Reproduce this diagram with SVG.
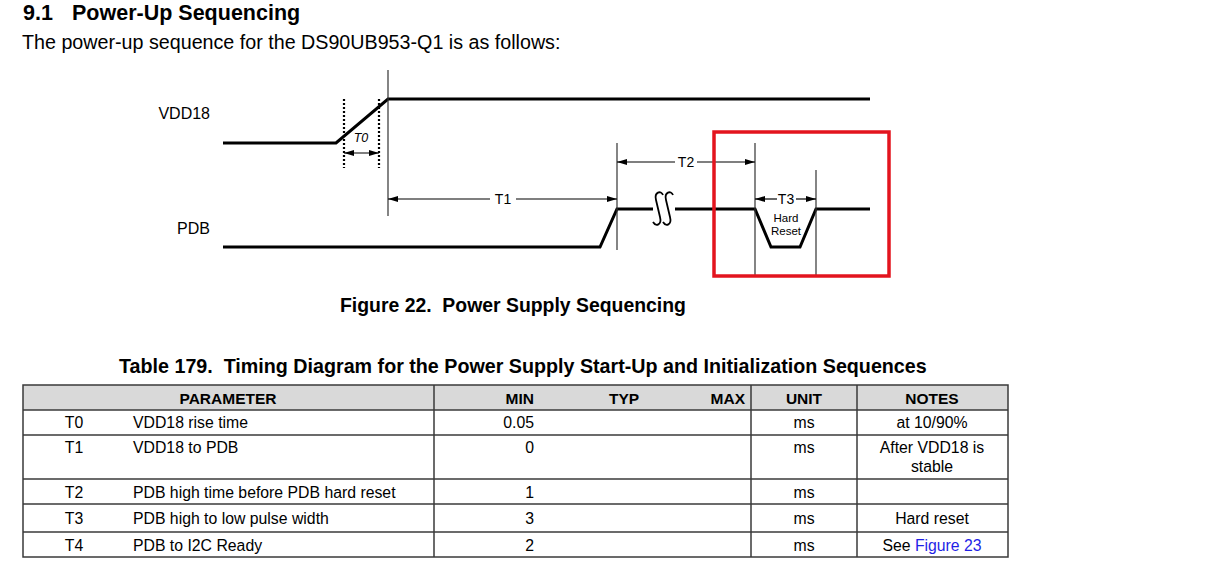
<svg xmlns="http://www.w3.org/2000/svg" width="1230" height="567" viewBox="0 0 1230 567">
<defs>
<marker id="ah" viewBox="0 0 10 6" refX="10" refY="3" markerWidth="10" markerHeight="6" markerUnits="userSpaceOnUse" orient="auto-start-reverse">
<path d="M0,0 L10,3 L0,6 z" fill="#000"/>
</marker>
<style>
text{font-family:"Liberation Sans",Arial,sans-serif;fill:#000}
.b{font-weight:bold}
.sig{fill:none;stroke:#000;stroke-width:3;stroke-linejoin:miter}
.thin{stroke:#333;stroke-width:1.2;fill:none}
.dot{stroke:#000;stroke-width:2.2;stroke-dasharray:2 2;fill:none}
.arr{stroke:#000;stroke-width:1.2;fill:none}
.lbl{font-size:16px}
.tl{font-size:14px;text-anchor:middle}
.sm{font-size:11.5px;text-anchor:middle}
.grid{stroke:#3a3a3a;stroke-width:1.5;fill:none}
.td{font-size:15.8px}
.th{font-size:15.5px;font-weight:bold}
.c{text-anchor:middle}
.e{text-anchor:end}
.sq{fill:none;stroke:#000;stroke-width:1.8}
</style>
</defs>
<rect width="1230" height="567" fill="#fff"/>
<g id="heading">
<text class="b" x="23" y="19.5" font-size="21.5">9.1</text>
<text class="b" x="72" y="19.5" font-size="21.5">Power-Up Sequencing</text>
<text x="22" y="49" font-size="19.7">The power-up sequence for the DS90UB953-Q1 is as follows:</text>
</g>
<g id="labels">
<text class="lbl" x="210" y="119" text-anchor="end">VDD18</text>
<text class="lbl" x="210" y="234" text-anchor="end">PDB</text>
</g>
<g id="vdd18">
<path class="sig" d="M223,143 L336,143 L388,99 L870,99"/>
</g>
<g id="pdb">
<path class="sig" d="M223,247 L600,247 L617,209 L653,209"/>
<path class="sig" d="M675,209 L755,209 L771,247 L800,247 L816,209 L870,209"/>
<path class="sq" d="M663,195 C661,190 654,192 656,200 L660,217 C662,225 656,227 653,222"/>
<path class="sq" d="M673,195 C671,190 664,192 666,200 L670,217 C672,225 666,227 663,222"/>
</g>
<g id="connectors">
<line class="thin" x1="388" y1="70" x2="388" y2="216"/>
<line class="thin" x1="617" y1="143" x2="617" y2="250"/>
<line class="thin" x1="755" y1="143" x2="755" y2="277"/>
<line class="thin" x1="816" y1="170" x2="816" y2="277"/>
<line class="dot" x1="344" y1="99" x2="344" y2="168"/>
<line class="dot" x1="379" y1="99" x2="379" y2="168"/>
<line class="arr" x1="344" y1="153" x2="379" y2="153" marker-start="url(#ah)" marker-end="url(#ah)"/>
<line class="arr" x1="388" y1="199" x2="490" y2="199" marker-start="url(#ah)"/>
<line class="arr" x1="516" y1="199" x2="617" y2="199" marker-end="url(#ah)"/>
<line class="arr" x1="617" y1="162" x2="675" y2="162" marker-start="url(#ah)"/>
<line class="arr" x1="697" y1="162" x2="755" y2="162" marker-end="url(#ah)"/>
<line class="arr" x1="755" y1="199" x2="777" y2="199" marker-start="url(#ah)"/>
<line class="arr" x1="796" y1="199" x2="816" y2="199" marker-end="url(#ah)"/>
</g>
<g id="timing-labels">
<text x="361" y="142" font-size="12.5" font-style="italic" text-anchor="middle">T0</text>
<text class="tl" x="503" y="204">T1</text>
<text class="tl" x="686" y="167">T2</text>
<text class="tl" x="786" y="204">T3</text>
<text class="sm" x="786" y="222">Hard</text>
<text class="sm" x="786" y="235">Reset</text>
</g>
<g id="highlight">
<rect x="714" y="132" width="175" height="144" fill="none" stroke="#e3141e" stroke-width="3.5"/>
</g>
<g id="caption">
<text class="b" x="340" y="312" font-size="19.4" xml:space="preserve">Figure 22.  Power Supply Sequencing</text>
</g>
<g id="table">
<text class="b" x="119" y="373" font-size="19.7" xml:space="preserve">Table 179.  Timing Diagram for the Power Supply Start-Up and Initialization Sequences</text>
<rect x="23" y="385" width="985" height="25" fill="#d9d9d9"/>
<rect class="grid" x="23" y="385" width="985" height="172"/>
<line class="grid" x1="23" y1="410" x2="1008" y2="410"/>
<line class="grid" x1="23" y1="435" x2="1008" y2="435"/>
<line class="grid" x1="23" y1="479" x2="1008" y2="479"/>
<line class="grid" x1="23" y1="504" x2="1008" y2="504"/>
<line class="grid" x1="23" y1="532" x2="1008" y2="532"/>
<line class="grid" x1="434" y1="385" x2="434" y2="557"/>
<line class="grid" x1="751" y1="385" x2="751" y2="557"/>
<line class="grid" x1="857" y1="385" x2="857" y2="557"/>
<text class="th c" x="228" y="404">PARAMETER</text>
<text class="th e" x="534" y="404">MIN</text>
<text class="th c" x="624" y="404">TYP</text>
<text class="th e" x="745" y="404">MAX</text>
<text class="th c" x="804" y="404">UNIT</text>
<text class="th c" x="932" y="404">NOTES</text>
<text class="td c" x="74" y="428">T0</text>
<text class="td" x="133" y="428">VDD18 rise time</text>
<text class="td e" x="534" y="428">0.05</text>
<text class="td c" x="804" y="428">ms</text>
<text class="td c" x="932" y="428">at 10/90%</text>
<text class="td c" x="74" y="453">T1</text>
<text class="td" x="133" y="453">VDD18 to PDB</text>
<text class="td e" x="534" y="453">0</text>
<text class="td c" x="804" y="453">ms</text>
<text class="td c" x="932" y="453">After VDD18 is</text>
<text class="td c" x="932" y="472">stable</text>
<text class="td c" x="74" y="498">T2</text>
<text class="td" x="133" y="498">PDB high time before PDB hard reset</text>
<text class="td e" x="534" y="498">1</text>
<text class="td c" x="804" y="498">ms</text>
<text class="td c" x="74" y="524">T3</text>
<text class="td" x="133" y="524">PDB high to low pulse width</text>
<text class="td e" x="534" y="524">3</text>
<text class="td c" x="804" y="524">ms</text>
<text class="td c" x="932" y="524">Hard reset</text>
<text class="td c" x="74" y="551">T4</text>
<text class="td" x="133" y="551">PDB to I2C Ready</text>
<text class="td e" x="534" y="551">2</text>
<text class="td c" x="804" y="551">ms</text>
<text class="td c" x="932" y="551">See <tspan fill="#1f1fe6">Figure 23</tspan></text>
</g>
</svg>
